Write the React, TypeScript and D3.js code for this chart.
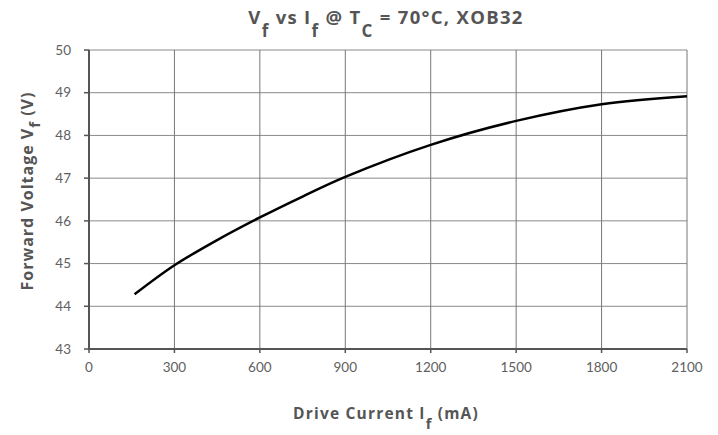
import * as React from 'react';
import { scaleLinear, line, curveCatmullRom } from 'd3';

// drive current (mA) and forward voltage (V)
const currents = [160, 300, 450, 600, 750, 900, 1200, 1500, 1800, 2100];
const voltages = [44.28, 44.96, 45.55, 46.08, 46.57, 47.03, 47.78, 48.34, 48.73, 48.92];

const xTicks = [0, 300, 600, 900, 1200, 1500, 1800, 2100];
const yTicks = [43, 44, 45, 46, 47, 48, 49, 50];

const W = 718;
const H = 435;
const margin = { left: 89, right: 31, top: 50, bottom: 86 };
const tickFont = 'Lato, "Open Sans", sans-serif';
const labelFont = '"Open Sans", Lato, sans-serif';
const textColor = '#555';

export default function App(): JSX.Element {
    const x = scaleLinear()
        .domain([0, 2100])
        .range([margin.left, W - margin.right]);
    const y = scaleLinear()
        .domain([43, 50])
        .range([H - margin.bottom, margin.top]);

    const pts: [number, number][] = currents.map((c, i) => [c, voltages[i]]);
    const path = line<[number, number]>()
        .x(d => x(d[0]))
        .y(d => y(d[1]))
        .curve(curveCatmullRom)(pts) || '';

    const x0 = x(0);
    const x1 = x(2100);
    const y0 = y(43);
    const y1 = y(50);

    return (
        <svg width={W} height={H} style={{ position: 'absolute', left: 0, top: 0, background: '#fff' }}>
            {/* grid */}
            {yTicks.map(t => (
                <line key={'h' + t} x1={x0} x2={x1} y1={y(t)} y2={y(t)} stroke="#8a8a8a" strokeWidth={1} />
            ))}
            {xTicks.map(t => (
                <line key={'v' + t} x1={x(t)} x2={x(t)} y1={y1} y2={y0} stroke="#777" strokeWidth={1} />
            ))}

            {/* axes */}
            <line x1={x0} x2={x0} y1={y1} y2={y0} stroke="#555" strokeWidth={2} />
            <line x1={x0} x2={x1} y1={y0} y2={y0} stroke="#555" strokeWidth={2} />
            {yTicks.map(t => (
                <line key={'yt' + t} x1={x0 - 5} x2={x0} y1={y(t)} y2={y(t)} stroke="#555" strokeWidth={1.5} />
            ))}
            {xTicks.map(t => (
                <line key={'xt' + t} x1={x(t)} x2={x(t)} y1={y0} y2={y0 + 4} stroke="#555" strokeWidth={1.5} />
            ))}

            {/* tick labels */}
            {yTicks.map(t => (
                <text key={'yl' + t} x={71} y={y(t)} dy="0.35em" textAnchor="end"
                    fontFamily={tickFont} fontSize={13.5} fill="#606060">{t}</text>
            ))}
            {xTicks.map(t => (
                <text key={'xl' + t} x={x(t)} y={y0 + 23} textAnchor="middle"
                    fontFamily={tickFont} fontSize={13.5} fill="#606060">{t}</text>
            ))}

            {/* curve */}
            <path d={path} fill="none" stroke="#000" strokeWidth={2.5} />

            {/* title */}
            <text x={386} y={24} textAnchor="middle" fontFamily={labelFont} fontSize={18.5}
                fontWeight="bold" fill={textColor} letterSpacing={1.3}>
                V<tspan fontSize={17} dy={13}>f</tspan>
                <tspan dy={-13}> vs I</tspan><tspan fontSize={17} dy={13}>f</tspan>
                <tspan dy={-13}> @ T</tspan><tspan fontSize={17} dy={13}>C</tspan>
                <tspan dy={-13}> = 70°C, XOB32</tspan>
            </text>

            {/* y label */}
            <text transform="translate(33, 191) rotate(-90)" textAnchor="middle"
                fontFamily={labelFont} fontSize={16} fontWeight="bold" fill={textColor} letterSpacing={1}>
                Forward Voltage V<tspan fontSize={15} dy={7}>f</tspan><tspan dy={-7}> (V)</tspan>
            </text>

            {/* x label */}
            <text x={386} y={419} textAnchor="middle" fontFamily={labelFont} fontSize={15.5}
                fontWeight="bold" fill={textColor} letterSpacing={1.2}>
                Drive Current I<tspan fontSize={14.5} dy={10}>f</tspan><tspan dy={-10}> (mA)</tspan>
            </text>
        </svg>
    );
}
